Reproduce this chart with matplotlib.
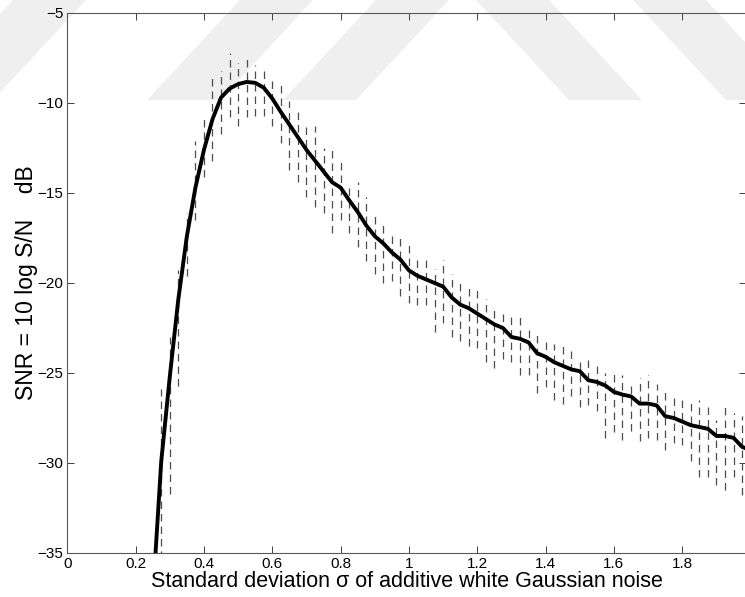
# -*- coding: utf-8 -*-
"""
SNR versus noise level, mean curve with dashed spread bars
"""

import matplotlib
matplotlib.use('Agg')
import matplotlib.pyplot as plt
from matplotlib.patches import Polygon
import numpy as np

# DATA
sigma = [0.25, 0.275, 0.3, 0.325, 0.35, 0.375, 0.4, 0.425, 0.45, 0.475,
         0.5, 0.525, 0.55, 0.575, 0.6, 0.625, 0.65, 0.675, 0.7, 0.725,
         0.75, 0.775, 0.8, 0.825, 0.85, 0.875, 0.9, 0.925, 0.95, 0.975,
         1.0, 1.025, 1.05, 1.075, 1.1, 1.125, 1.15, 1.175, 1.2, 1.225,
         1.25, 1.275, 1.3, 1.325, 1.35, 1.375, 1.4, 1.425, 1.45, 1.475,
         1.5, 1.525, 1.55, 1.575, 1.6, 1.625, 1.65, 1.675, 1.7, 1.725,
         1.75, 1.775, 1.8, 1.825, 1.85, 1.875, 1.9, 1.925, 1.95, 1.975, 2.0]

snr_mean = [-37.5, -29.9, -25.2, -20.9, -17.4, -14.7, -12.6, -10.9, -9.7, -9.2,
            -8.95, -8.83, -8.88, -9.15, -9.75, -10.5, -11.2, -11.9, -12.6, -13.2,
            -13.8, -14.4, -14.7, -15.4, -16.05, -16.8, -17.4, -17.8, -18.3, -18.7,
            -19.3, -19.6, -19.8, -20.0, -20.2, -20.8, -21.2, -21.4, -21.7, -22.0,
            -22.3, -22.5, -23.0, -23.1, -23.3, -23.9, -24.1, -24.4, -24.6, -24.8,
            -24.9, -25.4, -25.5, -25.7, -26.05, -26.2, -26.3, -26.7, -26.7, -26.8,
            -27.4, -27.5, -27.7, -27.9, -28.0, -28.1, -28.5, -28.5, -28.6, -29.1, -29.3]

snr_top = [-36.0, -25.9, -23.0, -19.3, -16.1, -12.1, -10.9, -8.6, -8.2, -7.2,
           -7.8, -7.4, -7.9, -8.1, -8.8, -8.9, -9.9, -10.2, -11.1, -11.3,
           -12.5, -12.6, -13.3, -14.6, -14.4, -15.2, -16.2, -16.7, -17.3, -17.3,
           -17.9, -18.7, -18.7, -19.2, -18.7, -19.5, -19.8, -20.3, -20.3, -20.9,
           -21.3, -21.7, -21.9, -21.9, -22.5, -22.9, -23.3, -23.4, -23.5, -23.8,
           -24.4, -24.3, -24.4, -25.0, -24.9, -25.1, -25.6, -25.3, -25.1, -25.6,
           -25.9, -26.3, -26.4, -26.6, -26.5, -26.9, -27.6, -26.9, -27.2, -27.4, -27.6]

snr_bot = [-40.0, -36.0, -31.7, -25.7, -19.6, -16.5, -14.1, -13.2, -11.7, -10.8,
           -11.3, -10.8, -10.7, -10.7, -11.3, -12.2, -13.7, -14.4, -15.2, -15.8,
           -16.1, -17.2, -16.5, -17.2, -18.0, -18.8, -19.5, -20.0, -19.9, -20.7,
           -21.1, -21.2, -21.2, -22.7, -22.2, -23.0, -23.2, -23.5, -23.6, -24.4,
           -24.7, -24.2, -24.4, -25.1, -25.1, -26.1, -25.8, -26.5, -26.7, -26.3,
           -26.9, -26.8, -27.1, -28.6, -28.3, -28.7, -28.2, -28.8, -28.6, -28.7,
           -29.3, -28.9, -29.0, -29.9, -30.8, -30.8, -31.2, -31.5, -30.8, -31.8, -31.6]

xticks = [0, 0.2, 0.4, 0.6, 0.8, 1.0, 1.2, 1.4, 1.6, 1.8]
xticklabels = ['0', '0.2', '0.4', '0.6', '0.8', '1', '1.2', '1.4', '1.6', '1.8']
yticks = [-35, -30, -25, -20, -15, -10, -5]

# PLOT
plt.rcParams['font.family'] = ['Liberation Sans', 'DejaVu Sans']
W, H = 745, 597
fig = plt.figure(figsize=(W / 100, H / 100), dpi=100)

# faint watermark bands behind the plot (pixel coords, y from top)
def band(pts):
    xy = [(x / W, 1 - y / H) for x, y in pts]
    fig.patches.append(Polygon(xy, closed=True, transform=fig.transFigure,
                               facecolor='#efefef', edgecolor='none', zorder=0))

for bx in [-80, 147, 283]:
    band([(bx, 100), (bx + 73, 100), (bx + 166, 0), (bx + 93, 0)])
for tx in [476, 633]:
    band([(tx, 0), (tx + 73, 0), (tx + 166, 100), (tx + 93, 100)])

ax = fig.add_axes([67.3 / W, 1 - 553 / H, 1 - 67.3 / W + 0.002, 540 / H])
ax.set_zorder(2)
ax.patch.set_alpha(0)

ax.vlines(sigma, snr_bot, snr_top, colors='0.3', linewidth=0.9,
          linestyles=(0, (6, 4)), zorder=2)
ax.plot(sigma, snr_mean, color='black', linewidth=2.8, zorder=3)

ax.set_xlim(0, 1.988)
ax.set_ylim(-35, -5)
ax.set_xticks(xticks)
ax.set_xticklabels(xticklabels)
ax.set_yticks(yticks)
ax.tick_params(direction='in', length=5, width=0.7, colors='0.25',
               labelcolor='black', labelsize=11, top=True, right=True, pad=3)
for sp in ax.spines.values():
    sp.set_color('0.35')
    sp.set_linewidth(0.8)

ax.set_xlabel('Standard deviation σ of additive white Gaussian noise',
              fontsize=15.5, labelpad=0)
ax.set_ylabel('SNR = 10 log S/N    dB', fontsize=16.5)
ax.yaxis.set_label_coords(-0.043, 0.5)

fig.savefig('out.png', dpi=100)
